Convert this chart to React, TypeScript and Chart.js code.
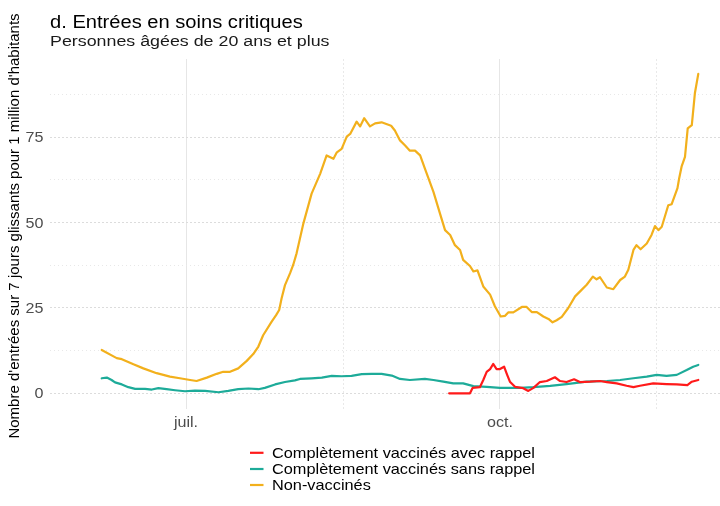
import React, { useEffect, useRef } from "react";
import { Chart, registerables } from "chart.js";

Chart.register(...registerables);

// ---------- DATA (days relative to 1 July) ----------
const nonVaxDays = [-24.7, -20.3, -18.8, -15.4, -12.5, -8.6, -4.7, -1.8, 1.2, 3.1, 6.1, 9.0, 10.9, 12.9, 15.3, 17.8, 19.7, 21.2, 22.6, 25.1, 26.4, 27.3, 28.0, 29.0, 30.5, 31.4, 32.4, 34.4, 36.8, 39.3, 41.2, 43.2, 44.2, 45.6, 47.1, 48.1, 50.0, 51.0, 52.2, 53.9, 55.4, 57.3, 60.1, 61.2, 62.7, 64.2, 65.6, 67.1, 68.6, 70.0, 72.5, 74.4, 75.9, 77.4, 78.8, 80.3, 81.2, 83.2, 84.2, 85.4, 87.1, 89.1, 90.5, 92.2, 93.5, 94.4, 95.9, 98.4, 99.8, 101.3, 102.8, 104.7, 106.2, 107.4, 108.6, 110.1, 112.0, 114.0, 115.9, 117.4, 119.2, 120.3, 121.3, 123.3, 125.2, 127.2, 128.6, 129.6, 131.1, 132.0, 133.2, 135.0, 136.4, 137.4, 138.4, 139.4, 141.3, 142.3, 144.0, 144.5, 145.2, 146.2, 147.0, 148.2, 149.1, 150.1];
const nonVaxValues = [12.7, 10.3, 10.0, 8.5, 7.3, 5.9, 4.9, 4.4, 3.9, 3.6, 4.6, 5.7, 6.3, 6.3, 7.3, 9.5, 11.5, 13.7, 17.0, 21.0, 22.9, 24.4, 27.8, 31.7, 35.2, 37.6, 41.0, 49.8, 58.5, 64.3, 69.7, 68.7, 70.6, 71.6, 75.2, 76.0, 79.6, 78.2, 80.6, 78.2, 79.1, 79.4, 78.4, 77.0, 74.1, 72.6, 71.1, 71.1, 69.7, 65.8, 59.0, 52.7, 47.8, 46.4, 43.4, 42.0, 39.1, 37.3, 35.7, 36.0, 31.3, 28.9, 25.5, 22.5, 22.7, 23.7, 23.7, 25.3, 25.3, 23.8, 23.8, 22.5, 21.8, 20.8, 21.4, 22.4, 25.0, 28.4, 30.3, 31.8, 34.2, 33.4, 34.0, 31.0, 30.5, 33.2, 34.2, 36.2, 42.0, 43.4, 42.2, 43.9, 46.4, 49.0, 47.8, 48.8, 55.1, 55.4, 60.1, 63.0, 66.4, 69.3, 77.6, 78.6, 87.9, 93.6];

const noBoosterDays = [-24.7, -23.2, -21.8, -20.8, -18.8, -16.9, -14.9, -12.0, -10.0, -8.1, -5.7, -3.2, -0.3, 2.6, 5.6, 9.5, 12.4, 15.3, 18.3, 21.2, 23.1, 26.1, 29.0, 31.9, 33.4, 36.8, 39.8, 42.7, 45.6, 48.5, 51.5, 54.4, 57.3, 60.3, 62.7, 65.6, 70.0, 72.5, 75.4, 78.3, 81.2, 84.2, 88.1, 92.0, 94.9, 97.9, 101.8, 106.7, 111.5, 117.4, 123.3, 127.2, 131.1, 135.0, 137.9, 140.8, 143.8, 146.7, 148.6, 150.1];
const noBoosterValues = [4.4, 4.6, 3.9, 3.2, 2.6, 1.8, 1.3, 1.3, 1.1, 1.5, 1.2, 0.9, 0.6, 0.8, 0.7, 0.3, 0.7, 1.2, 1.4, 1.2, 1.6, 2.6, 3.3, 3.8, 4.2, 4.4, 4.6, 5.1, 5.0, 5.1, 5.6, 5.7, 5.7, 5.2, 4.2, 3.9, 4.2, 3.9, 3.4, 2.9, 2.9, 2.1, 1.9, 1.6, 1.6, 1.6, 1.8, 2.2, 2.7, 3.4, 3.6, 3.9, 4.4, 4.9, 5.4, 5.1, 5.4, 6.8, 7.8, 8.3];

const boosterDays = [77.1, 83.2, 84.0, 86.1, 87.1, 88.1, 89.1, 90.0, 91.0, 92.0, 93.2, 94.1, 94.9, 96.4, 98.8, 100.3, 101.8, 103.7, 105.7, 108.1, 109.6, 111.5, 113.7, 115.4, 118.4, 121.3, 123.3, 126.2, 129.1, 131.1, 133.0, 136.9, 140.8, 143.8, 146.9, 148.2, 150.1];
const boosterValues = [0, 0, 1.6, 1.8, 3.9, 6.3, 7.1, 8.6, 7.1, 7.1, 7.8, 5.4, 3.4, 1.9, 1.5, 0.7, 1.6, 3.3, 3.6, 4.7, 3.6, 3.3, 4.1, 3.3, 3.4, 3.6, 3.3, 2.9, 2.2, 1.8, 2.2, 2.9, 2.7, 2.6, 2.4, 3.4, 3.9];

const seriesNames = [
  "Complètement vaccinés avec rappel",
  "Complètement vaccinés sans rappel",
  "Non-vaccinés",
];
const seriesColors = ["#FF1A1A", "#1DAB99", "#F2B01C"];

const yTickValues = [0, 25, 50, 75];
const yGridValues = [0, 12.5, 25, 37.5, 50, 62.5, 75, 87.5];
const xTickDays = [0, 92];
const xTickLabels = ["juil.", "oct."];
const xGridDays = [0, 46, 92, 138];

const titleText = "d. Entrées en soins critiques";
const subtitleText = "Personnes âgées de 20 ans et plus";
const yAxisTitle = "Nombre d'entrées sur 7 jours glissants pour 1 million d'habitants";

// ---------- LAYOUT ----------
const W = 720;
const H = 506;
const X_MIN = -39.85;
const X_MAX = 156.46;
const Y_MIN = -4.6;
const Y_MAX = 97.95;
const FONT = '"Liberation Sans", Arial, Helvetica, sans-serif';
const SX = 1.15;

function toPoints(xs: number[], ys: number[]) {
  return xs.map((x, i) => ({ x, y: ys[i] }));
}

function drawText(
  ctx: CanvasRenderingContext2D,
  text: string,
  x: number,
  y: number,
  size: number,
  color: string,
  align: CanvasTextAlign = "left"
) {
  ctx.save();
  ctx.font = `${size}px ${FONT}`;
  ctx.fillStyle = color;
  ctx.textAlign = align;
  ctx.textBaseline = "alphabetic";
  ctx.translate(x, y);
  ctx.scale(SX, 1);
  ctx.fillText(text, 0, 0);
  ctx.restore();
}

const textPlugin = {
  id: "customText",
  afterDraw(chart: any) {
    const ctx: CanvasRenderingContext2D = chart.ctx;
    const xs = chart.scales.x;
    const ys = chart.scales.y;
    const area = chart.chartArea;

    // titles
    drawText(ctx, titleText, area.left, 27.5, 17.5, "#000000");
    drawText(ctx, subtitleText, area.left, 45.5, 15.5, "#1a1a1a");

    // y tick labels
    yTickValues.forEach((v) => {
      const py = ys.getPixelForValue(v);
      drawText(ctx, String(v), area.left - 6.5, py + 5, 14, "#4d4d4d", "right");
    });
    // x tick labels
    xTickDays.forEach((d, i) => {
      const px = xs.getPixelForValue(d);
      drawText(ctx, xTickLabels[i], px, area.bottom + 17.5, 14, "#4d4d4d", "center");
    });

    // y axis title
    ctx.save();
    ctx.font = `15px ${FONT}`;
    ctx.fillStyle = "#000000";
    ctx.textAlign = "center";
    ctx.textBaseline = "alphabetic";
    ctx.translate(18.5, 226);
    ctx.rotate(-Math.PI / 2);
    ctx.fillText(yAxisTitle, 0, 0);
    ctx.restore();

    // legend
    const rowsY = [452.8, 469.0, 485.0];
    seriesNames.forEach((name, i) => {
      const cy = rowsY[i];
      ctx.save();
      ctx.strokeStyle = seriesColors[i];
      ctx.lineWidth = 2.2;
      ctx.beginPath();
      ctx.moveTo(250, cy);
      ctx.lineTo(263.5, cy);
      ctx.stroke();
      ctx.restore();
      drawText(ctx, name, 272, cy + 5, 14.2, "#000000");
    });
  },
};

export default function App() {
  const ref = useRef<HTMLCanvasElement>(null);
  useEffect(() => {
    document.body.style.margin = "0";
    const canvas = ref.current;
    if (!canvas) return;
    const datasets = [
      { label: seriesNames[0], data: toPoints(boosterDays, boosterValues), borderColor: seriesColors[0] },
      { label: seriesNames[1], data: toPoints(noBoosterDays, noBoosterValues), borderColor: seriesColors[1] },
      { label: seriesNames[2], data: toPoints(nonVaxDays, nonVaxValues), borderColor: seriesColors[2] },
    ].map((d) => ({
      ...d,
      borderWidth: 2.2,
      pointRadius: 0,
      tension: 0,
      fill: false,
      borderJoinStyle: "round" as const,
      borderCapStyle: "round" as const,
    }));

    const chart = new Chart(canvas, {
      type: "line",
      data: { datasets },
      plugins: [textPlugin],
      options: {
        animation: false,
        responsive: false,
        devicePixelRatio: 1,
        parsing: false as any,
        normalized: true,
        layout: { padding: { top: 59, left: 0, right: 0, bottom: 0 } },
        plugins: {
          legend: { display: false },
          title: { display: false },
          tooltip: { enabled: false },
        },
        scales: {
          x: {
            type: "linear",
            min: X_MIN,
            max: X_MAX,
            afterBuildTicks: (s: any) => {
              s.ticks = xGridDays.map((v) => ({ value: v }));
            },
            afterFit: (s: any) => {
              s.height = 97;
            },
            ticks: { display: false },
            grid: {
              drawTicks: false,
              lineWidth: 1,
              color: (c: any) =>
                xTickDays.includes(c.tick?.value) ? "#e6e6e6" : "#e9e9e9",
            },
            border: {
              display: false,
              dash: (c: any) => (xTickDays.includes(c.tick?.value) ? [] : [2, 2]),
            } as any,
          },
          y: {
            type: "linear",
            min: Y_MIN,
            max: Y_MAX,
            afterBuildTicks: (s: any) => {
              s.ticks = yGridValues.map((v) => ({ value: v }));
            },
            afterFit: (s: any) => {
              s.width = 50;
            },
            ticks: { display: false },
            grid: {
              drawTicks: false,
              lineWidth: 1,
              color: (c: any) =>
                yTickValues.includes(c.tick?.value) ? "#dcdcdc" : "#e8e8e8",
            },
            border: {
              display: false,
              dash: (c: any) => (yTickValues.includes(c.tick?.value) ? [2, 2] : [1, 3]),
            } as any,
          },
        },
      } as any,
    });
    return () => chart.destroy();
  }, []);

  return (
    <div style={{ width: W, height: H }}>
      <canvas
        ref={ref}
        width={W}
        height={H}
        style={{ display: "block", width: W, height: H }}
      />
    </div>
  );
}
